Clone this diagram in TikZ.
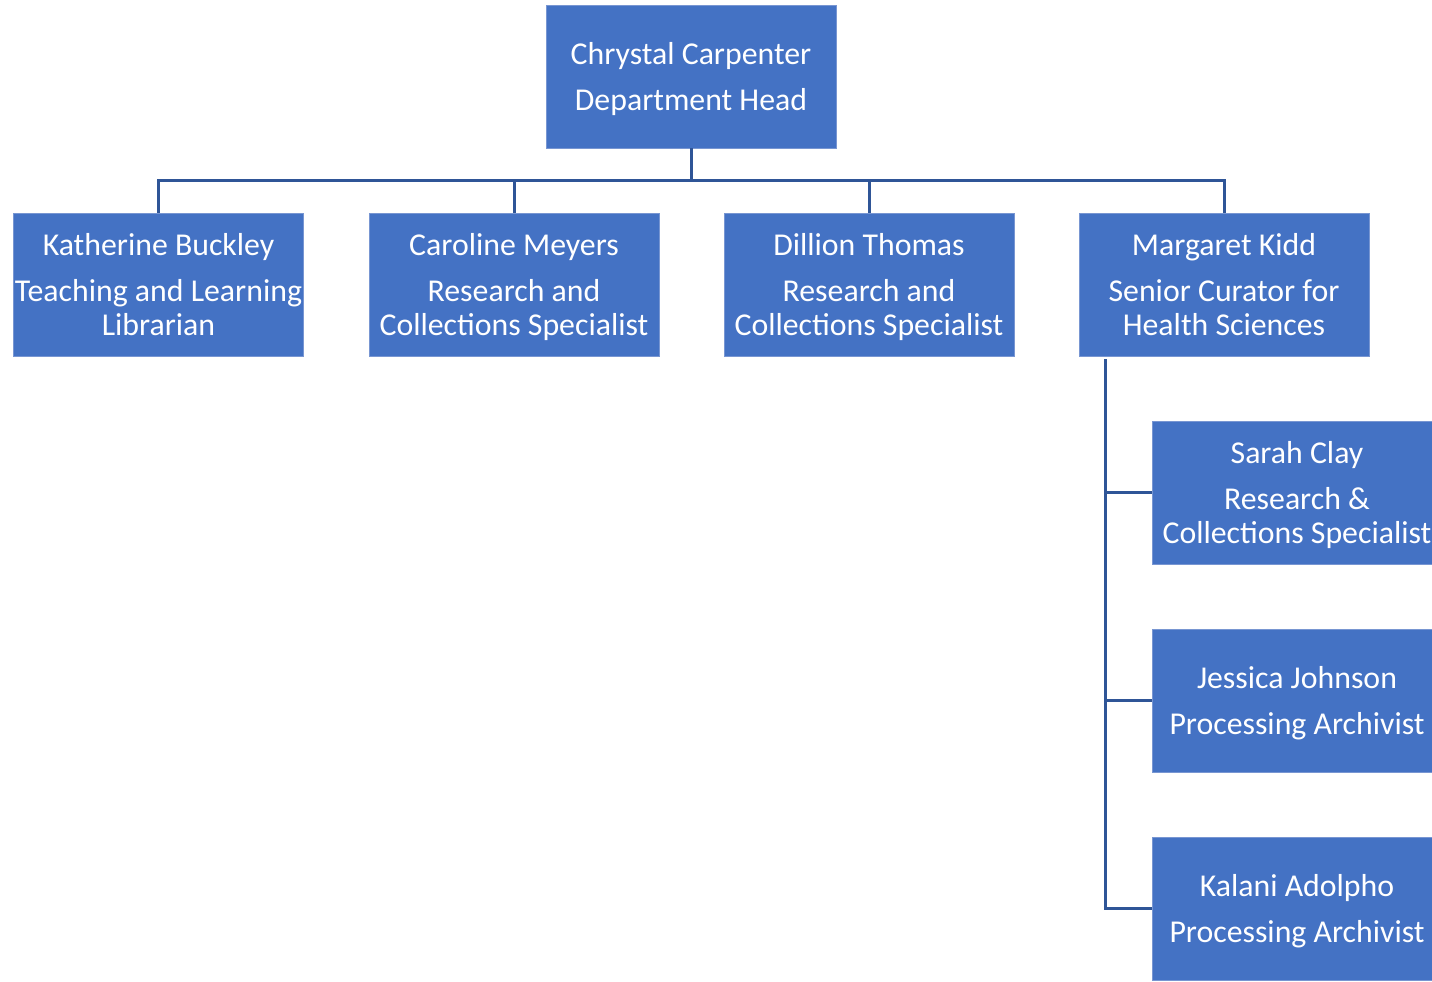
\documentclass[tikz,border=0pt]{standalone}
\usepackage{fontspec}
\setmainfont{Carlito}
\definecolor{boxblue}{RGB}{68, 114, 196}
\definecolor{edgeblue}{RGB}{120, 150, 210}
\definecolor{lineblue}{RGB}{47, 85, 151}
\usetikzlibrary{positioning, calc}

\tikzset{
  staffbox/.style={fill=boxblue, draw=edgeblue, line width=0.4pt, minimum width=5.8cm, minimum height=2.86cm,
    inner sep=0pt, align=center, text=white, font=\fontsize{18.1}{19.4}\selectfont, text depth=0pt},
  link/.style={draw=lineblue, line width=1.7pt}
}

\begin{document}
\begin{tikzpicture}
  \useasboundingbox (0,0) rectangle (28.64,-19.62);

  % Head
  \node[staffbox] (head) at (13.82, -1.53) {Chrystal Carpenter\\[7pt]Department Head};

  % Second row
  \node[staffbox] (kb) at (3.17, -5.69) {Katherine Buckley\\[7pt]Teaching and Learning\\Librarian};
  \node[staffbox] (cm) at (10.28, -5.69) {Caroline Meyers\\[7pt]Research and\\Collections Specialist};
  \node[staffbox] (dt) at (17.38, -5.69) {Dillion Thomas\\[7pt]Research and\\Collections Specialist};
  \node[staffbox] (mk) at (24.48, -5.69) {Margaret Kidd\\[7pt]Senior Curator for\\Health Sciences};

  % Under Margaret Kidd
  \node[staffbox] (sc) at (25.94, -9.85) {Sarah Clay\\[7pt]Research \&\\Collections Specialist};
  \node[staffbox] (jj) at (25.94, -14.01) {Jessica Johnson\\[7pt]Processing Archivist};
  \node[staffbox] (ka) at (25.94, -18.17) {Kalani Adolpho\\[7pt]Processing Archivist};

  % Connectors
  \draw[link] (head.south) -- ++(0,-0.64) -| (kb.north);
  \draw[link] (head.south) -- ++(0,-0.64) -| (cm.north);
  \draw[link] (head.south) -- ++(0,-0.64) -| (dt.north);
  \draw[link] (head.south) -- ++(0,-0.64) -| (mk.north);

  \draw[link] ([xshift=0.54cm, yshift=-0.06cm]mk.south west) |- (sc.west);
  \draw[link] ([xshift=0.54cm, yshift=-0.06cm]mk.south west) |- (jj.west);
  \draw[link] ([xshift=0.54cm, yshift=-0.06cm]mk.south west) |- (ka.west);
\end{tikzpicture}
\end{document}
